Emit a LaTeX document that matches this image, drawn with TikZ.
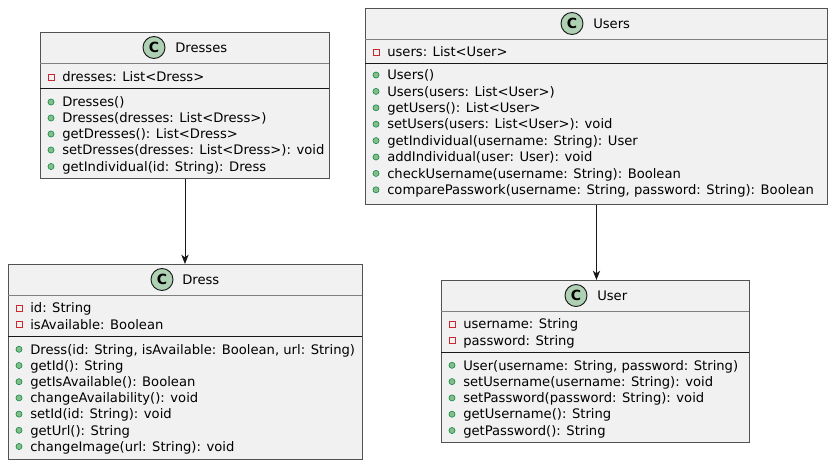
\documentclass[tikz,border=0pt]{standalone}
\usepackage{fontspec}
\setmainfont{DejaVu Sans}
\usetikzlibrary{arrows.meta}
\definecolor{umlfill}{HTML}{F1F1F1}
\definecolor{umlline}{HTML}{181818}
\definecolor{iconfill}{HTML}{ADD1B2}
\definecolor{privred}{HTML}{C82930}
\definecolor{pubgreen}{HTML}{84BE84}
\definecolor{pubedge}{HTML}{038048}

% one member row: node name, box left edge, row centre, text
\newcommand{\privrow}[4]{%
  \draw[privmark] (#2+8,#3-3) rectangle (#2+14,#3+3);
  \node[member] (#1) at (#2+22,#3+4.7) {#4};}
\newcommand{\pubrow}[4]{%
  \filldraw[pubmark] (#2+11,#3) circle[radius=2.3pt];
  \node[member] (#1) at (#2+22,#3+4.7) {#4};}

\begin{document}
\begin{tikzpicture}[
      x=0.75pt, y=-0.75pt,
      classbox/.style={rectangle, draw=umlline!75, fill=umlfill, line width=0.7pt,
                       anchor=north west, inner sep=0pt},
      classicon/.style={circle, draw=umlline, fill=iconfill, line width=0.7pt,
                        minimum size=16.5pt, inner sep=0pt,
                        font=\fontsize{10.5}{12}\selectfont\bfseries},
      classname/.style={anchor=base west, inner sep=0pt, font=\fontsize{9.85}{12}\selectfont},
      member/.style={anchor=base west, inner sep=0pt, font=\fontsize{9.85}{12}\selectfont},
      headsep/.style={draw=umlline!55, line width=0.7pt},
      attrsep/.style={draw=umlline, line width=0.7pt},
      privmark/.style={draw=privred, line width=0.6pt},
      pubmark/.style={draw=pubedge, fill=pubgreen, line width=0.4pt},
      assoc/.style={-{Stealth[length=7pt, width=5.5pt, inset=2pt]}, line width=0.7pt, draw=umlline}
    ]
    \useasboundingbox (0,0) rectangle (833,465);

    % Dresses
    \node[classbox, minimum width=216.75pt, minimum height=109.5pt] (dresses) at (40,32) {};
    \node[classicon] (dresses-icon) at (154,47.5) {C};
    \node[classname] (dresses-name) at (175,52.2) {Dresses};
    \draw[headsep] (40,63) -- (329,63);
    \draw[attrsep] (40,88) -- (329,88);
    \privrow{dresses-a1}{40}{77}{dresses: List<Dress>}
    \pubrow{dresses-m1}{40}{102}{Dresses()}
    \pubrow{dresses-m2}{40}{118}{Dresses(dresses: List<Dress>)}
    \pubrow{dresses-m3}{40}{134}{getDresses(): List<Dress>}
    \pubrow{dresses-m4}{40}{150}{setDresses(dresses: List<Dress>): void}
    \pubrow{dresses-m5}{40}{166.5}{getIndividual(id: String): Dress}

    % Dress
    \node[classbox, minimum width=265.5pt, minimum height=146.25pt] (dress) at (8,264) {};
    \node[classicon] (dress-icon) at (162,279.5) {C};
    \node[classname] (dress-name) at (182,284.2) {Dress};
    \draw[headsep] (8,295) -- (362,295);
    \draw[attrsep] (8,336) -- (362,336);
    \privrow{dress-a1}{8}{308}{id: String}
    \privrow{dress-a2}{8}{324.3}{isAvailable: Boolean}
    \pubrow{dress-m1}{8}{349.3}{Dress(id: String, isAvailable: Boolean, url: String)}
    \pubrow{dress-m2}{8}{365.5}{getId(): String}
    \pubrow{dress-m3}{8}{381.7}{getIsAvailable(): Boolean}
    \pubrow{dress-m4}{8}{397.9}{changeAvailability(): void}
    \pubrow{dress-m5}{8}{414.1}{setId(id: String): void}
    \pubrow{dress-m6}{8}{430.3}{getUrl(): String}
    \pubrow{dress-m7}{8}{446.5}{changeImage(url: String): void}

    % Users
    \node[classbox, minimum width=346.5pt, minimum height=147pt] (users) at (365,8) {};
    \node[classicon] (users-icon) at (572,23.5) {C};
    \node[classname] (users-name) at (593,28.2) {Users};
    \draw[headsep] (365,39) -- (827,39);
    \draw[attrsep] (365,63) -- (827,63);
    \privrow{users-a1}{365}{52}{users: List<User>}
    \pubrow{users-m1}{365}{75}{Users()}
    \pubrow{users-m2}{365}{91.4}{Users(users: List<User>)}
    \pubrow{users-m3}{365}{107.8}{getUsers(): List<User>}
    \pubrow{users-m4}{365}{124.2}{setUsers(users: List<User>): void}
    \pubrow{users-m5}{365}{140.6}{getIndividual(username: String): User}
    \pubrow{users-m6}{365}{157}{addIndividual(user: User): void}
    \pubrow{users-m7}{365}{173.4}{checkUsername(username: String): Boolean}
    \pubrow{users-m8}{365}{189.8}{comparePasswork(username: String, password: String): Boolean}

    % User
    \node[classbox, minimum width=231pt, minimum height=121.5pt] (user) at (441,280) {};
    \node[classicon] (user-icon) at (576,295.5) {C};
    \node[classname] (user-name) at (597,300.2) {User};
    \draw[headsep] (441,311) -- (749,311);
    \draw[attrsep] (441,352) -- (749,352);
    \privrow{user-a1}{441}{324}{username: String}
    \privrow{user-a2}{441}{340.3}{password: String}
    \pubrow{user-m1}{441}{365.3}{User(username: String, password: String)}
    \pubrow{user-m2}{441}{381.6}{setUsername(username: String): void}
    \pubrow{user-m3}{441}{397.9}{setPassword(password: String): void}
    \pubrow{user-m4}{441}{414.2}{getUsername(): String}
    \pubrow{user-m5}{441}{430.5}{getPassword(): String}

    \draw[assoc] (dresses.south) -- (dresses.south |- dress.north);
    \draw[assoc] (users.south) -- (users.south |- user.north);
  \end{tikzpicture}
\end{document}
